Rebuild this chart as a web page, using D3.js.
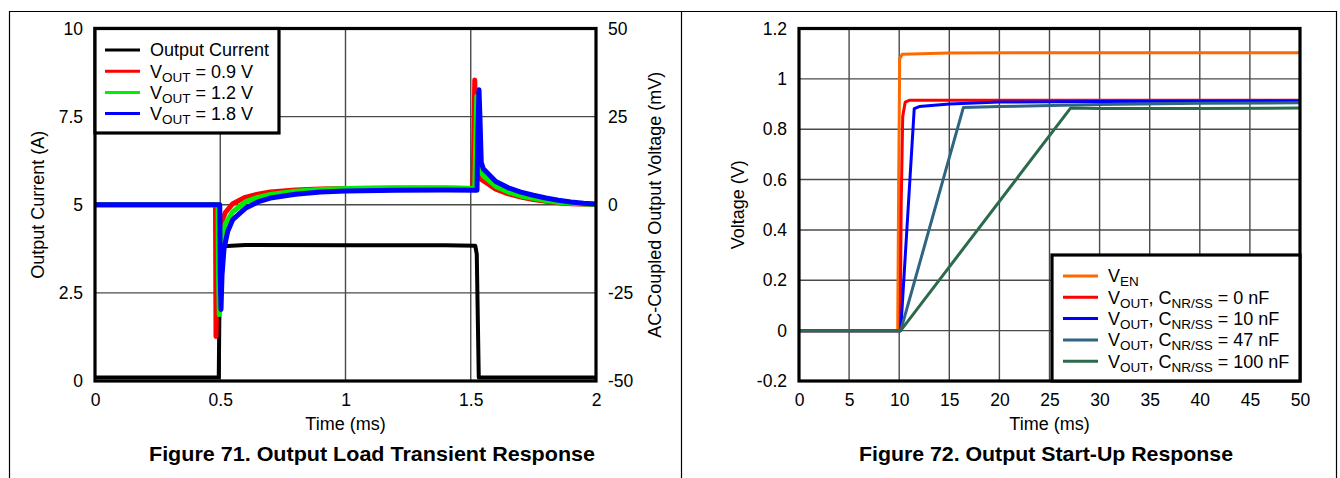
<!DOCTYPE html>
<html>
<head>
<meta charset="utf-8">
<script src="https://cdn.jsdelivr.net/npm/d3@7"></script>
<style>
  body { margin: 0; background: #fff; }
  svg text { font-family: "Liberation Sans", Arial, sans-serif; fill: #000; }
  .tick text { font-size: 17.5px; }
  .axis-title { font-size: 18px; }
  .fig-title { font-size: 21px; font-weight: bold; }
  .legend text { font-size: 18px; }
</style>
</head>
<body>
<div id="chart"></div>
<script>
// ---- Figure 71 data (time in ms) ----
const loadTicksX = [0, 0.5, 1, 1.5, 2];
const loadTicksY = [0, 2.5, 5, 7.5, 10];
const loadTicksY2 = [-50, -25, 0, 25, 50];

// output current, A
const outputCurrent = [[0, 0.1], [0.494, 0.1], [0.499, 3.7], [0.51, 3.82], [0.6, 3.86], [1.0, 3.85], [1.4, 3.85], [1.518, 3.84], [1.524, 3.6], [1.532, 0.1], [2, 0.1]];
// AC-coupled output voltage, mV
const vout09 = [[0, 0], [0.481, 0], [0.483, -37.4], [0.487, -24], [0.492, -12], [0.5, -6], [0.52, -2.2], [0.55, 0.3], [0.6, 2.1], [0.65, 3.0], [0.7, 3.6], [0.8, 4.2], [0.9, 4.5], [1.0, 4.6], [1.2, 4.7], [1.4, 4.7], [1.508, 4.6], [1.511, 12], [1.516, 35.4], [1.52, 22], [1.526, 9], [1.535, 7.6], [1.55, 6.8], [1.6, 4.4], [1.65, 3.1], [1.7, 2.2], [1.75, 1.5], [1.8, 1.0], [1.85, 0.6], [1.9, 0.3], [2, 0.1]];
const vout12 = [[0, 0], [0.491, 0], [0.493, -20], [0.496, -31.2], [0.5, -20], [0.507, -10], [0.52, -5.5], [0.55, -2], [0.6, 0.8], [0.65, 2.1], [0.7, 2.9], [0.8, 3.8], [0.9, 4.3], [1.0, 4.6], [1.2, 4.8], [1.4, 4.8], [1.516, 4.6], [1.519, 15], [1.524, 30.7], [1.528, 21], [1.535, 10], [1.55, 8.2], [1.6, 5.2], [1.65, 3.6], [1.7, 2.5], [1.75, 1.8], [1.8, 1.2], [1.85, 0.7], [1.9, 0.4], [2, 0.1]];
const vout18 = [[0, 0], [0.498, 0], [0.5, -20], [0.503, -29.7], [0.507, -20], [0.515, -12.5], [0.53, -7.5], [0.55, -4.2], [0.6, -1.0], [0.65, 0.8], [0.7, 1.9], [0.8, 3.0], [0.9, 3.6], [1.0, 3.9], [1.2, 4.1], [1.4, 4.2], [1.525, 4.1], [1.528, 20], [1.533, 32.6], [1.537, 24], [1.542, 12], [1.55, 10.2], [1.6, 6.6], [1.65, 4.8], [1.7, 3.6], [1.75, 2.7], [1.8, 1.9], [1.85, 1.3], [1.9, 0.8], [1.95, 0.4], [2, 0.2]];

// ---- Figure 72 data (time in ms, volts) ----
const startTicksX = [0, 5, 10, 15, 20, 25, 30, 35, 40, 45, 50];
const startTicksY = [-0.2, 0, 0.2, 0.4, 0.6, 0.8, 1, 1.2];
const vEn = [[0, 0], [9.85, 0], [9.95, 0.6], [10.05, 1.08], [10.3, 1.098], [15, 1.103], [30, 1.104], [50, 1.104]];
const vOut0nF = [[0, 0], [10.1, 0], [10.2, 0.5], [10.35, 0.85], [10.6, 0.908], [11, 0.915], [20, 0.915], [50, 0.915]];
const vOut10nF = [[0, 0], [10.15, 0], [11.5, 0.882], [12, 0.89], [15, 0.9], [20, 0.908], [30, 0.91], [50, 0.912]];
const vOut47nF = [[0, 0], [10.15, 0], [16.4, 0.886], [20, 0.89], [30, 0.898], [40, 0.903], [50, 0.905]];
const vOut100nF = [[0, 0], [10.15, 0], [27.1, 0.884], [30, 0.882], [40, 0.882], [50, 0.884]];

const svg = d3.select('#chart').append('svg')
  .attr('width', 1340)
  .attr('height', 478);

// page cell borders
svg.append('path')
  .attr('d', 'M9.5,478 V11.5 H1336.5 V478 M681.5,11.5 V478')
  .attr('fill', 'none')
  .attr('stroke', '#000')
  .attr('stroke-width', 1.2);

const fmt = (d) => String(d);

// Draws one panel: frame, grid, axes, series, legend
function drawPanel(cfg) {
  const g = svg.append('g');
  const x = d3.scaleLinear().domain(cfg.xDomain).range([cfg.left, cfg.right]);
  const y = d3.scaleLinear().domain(cfg.yDomain).range([cfg.bottom, cfg.top]);

  // grid
  g.append('g').selectAll('line.gx')
    .data(cfg.xTicks)
    .join('line')
    .attr('x1', (d) => x(d)).attr('x2', (d) => x(d))
    .attr('y1', cfg.top).attr('y2', cfg.bottom)
    .attr('stroke', '#4a4a4a').attr('stroke-width', 1.4);
  g.append('g').selectAll('line.gy')
    .data(cfg.yTicks)
    .join('line')
    .attr('x1', cfg.left).attr('x2', cfg.right)
    .attr('y1', (d) => y(d)).attr('y2', (d) => y(d))
    .attr('stroke', '#4a4a4a').attr('stroke-width', 1.4);

  // axes (labels only)
  const xAxis = g.append('g')
    .attr('transform', `translate(0,${cfg.bottom + 10})`)
    .call(d3.axisBottom(x).tickValues(cfg.xTicks).tickSize(0).tickFormat(fmt));
  xAxis.select('.domain').remove();
  xAxis.selectAll('text').attr('dy', '0.71em');

  const yAxis = g.append('g')
    .attr('transform', `translate(${cfg.left - 9},0)`)
    .call(d3.axisLeft(y).tickValues(cfg.yTicks).tickSize(0).tickFormat(fmt));
  yAxis.select('.domain').remove();

  if (cfg.y2Domain) {
    const y2 = d3.scaleLinear().domain(cfg.y2Domain).range([cfg.bottom, cfg.top]);
    const y2Axis = g.append('g')
      .attr('transform', `translate(${cfg.right + 9},0)`)
      .call(d3.axisRight(y2).tickValues(cfg.y2Ticks).tickSize(0).tickFormat(fmt));
    y2Axis.select('.domain').remove();
    cfg.y2 = y2;
  }
  g.selectAll('.tick text').attr('font-family', null).attr('font-size', null);

  // series
  const clipId = `clip-${cfg.id}`;
  g.append('clipPath').attr('id', clipId)
    .append('rect')
    .attr('x', cfg.left).attr('y', cfg.top)
    .attr('width', cfg.right - cfg.left).attr('height', cfg.bottom - cfg.top);

  const seriesG = g.append('g').attr('clip-path', `url(#${clipId})`);
  cfg.series.forEach((s) => {
    const ys = s.axis === 'y2' ? cfg.y2 : y;
    const line = d3.line().x((d) => x(d[0])).y((d) => ys(d[1]));
    seriesG.append('path')
      .datum(s.data)
      .attr('d', line)
      .attr('fill', 'none')
      .attr('stroke', s.color)
      .attr('stroke-width', s.width)
      .attr('stroke-linejoin', 'round');
  });

  // frame
  g.append('rect')
    .attr('x', cfg.left).attr('y', cfg.top)
    .attr('width', cfg.right - cfg.left).attr('height', cfg.bottom - cfg.top)
    .attr('fill', 'none').attr('stroke', '#000').attr('stroke-width', 3.2);

  // legend
  const lg = g.append('g').attr('class', 'legend');
  const L = cfg.legend;
  lg.append('rect')
    .attr('x', L.x0).attr('y', L.y0)
    .attr('width', L.x1 - L.x0).attr('height', L.y1 - L.y0)
    .attr('fill', '#fff').attr('stroke', '#000').attr('stroke-width', 3.2);
  cfg.series.forEach((s, i) => {
    const ry = L.rowY + i * L.rowGap;
    lg.append('line')
      .attr('x1', L.lineX).attr('x2', L.lineX + 35)
      .attr('y1', ry).attr('y2', ry)
      .attr('stroke', s.color).attr('stroke-width', 3);
    const t = lg.append('text')
      .attr('x', L.lineX + 45).attr('y', ry).attr('dy', '0.35em');
    s.label.forEach((part) => {
      if (part[1] === 'sub') {
        t.append('tspan').text(part[0]).attr('font-size', '13.5px').attr('dy', '4');
      } else {
        const ts = t.append('tspan').text(part[0]);
        if (part[1] === 'after') ts.attr('dy', '-4');
      }
    });
  });

  // axis titles
  const cx = (cfg.left + cfg.right) / 2;
  g.append('text').attr('class', 'axis-title')
    .attr('x', cx).attr('y', cfg.bottom + 49)
    .attr('text-anchor', 'middle').text(cfg.xTitle);
  g.append('text').attr('class', 'axis-title')
    .attr('transform', `translate(${cfg.yTitleX},${(cfg.top + cfg.bottom) / 2}) rotate(-90)`)
    .attr('text-anchor', 'middle').text(cfg.yTitle);
  if (cfg.y2Title) {
    g.append('text').attr('class', 'axis-title')
      .attr('transform', `translate(${cfg.y2TitleX},${(cfg.top + cfg.bottom) / 2}) rotate(-90)`)
      .attr('text-anchor', 'middle').text(cfg.y2Title);
  }
  g.append('text').attr('class', 'fig-title')
    .attr('x', cfg.titleX).attr('y', cfg.bottom + 80)
    .attr('text-anchor', 'middle')
    .attr('textLength', cfg.titleWidth)
    .attr('lengthAdjust', 'spacingAndGlyphs')
    .text(cfg.title);
}

drawPanel({
  id: 'load',
  left: 95, right: 596, top: 28.5, bottom: 381,
  xDomain: [0, 2], yDomain: [0, 10], y2Domain: [-50, 50],
  xTicks: loadTicksX, yTicks: loadTicksY, y2Ticks: loadTicksY2,
  xTitle: 'Time (ms)', yTitle: 'Output Current (A)', yTitleX: 44,
  y2Title: 'AC-Coupled Output Voltage (mV)', y2TitleX: 661,
  title: 'Figure 71. Output Load Transient Response', titleX: 372, titleWidth: 446,
  series: [
    { data: outputCurrent, axis: 'y', color: '#000', width: 4, label: [['Output Current', '']] },
    { data: vout09, axis: 'y2', color: '#ff0000', width: 5, label: [['V', ''], ['OUT', 'sub'], [' = 0.9 V', 'after']] },
    { data: vout12, axis: 'y2', color: '#00ee00', width: 5, label: [['V', ''], ['OUT', 'sub'], [' = 1.2 V', 'after']] },
    { data: vout18, axis: 'y2', color: '#0000ff', width: 5, label: [['V', ''], ['OUT', 'sub'], [' = 1.8 V', 'after']] },
  ],
  legend: { x0: 95, y0: 28.5, x1: 279, y1: 133, lineX: 105, rowY: 50, rowGap: 21.2 },
});

drawPanel({
  id: 'startup',
  left: 799, right: 1300, top: 28.5, bottom: 381,
  xDomain: [0, 50], yDomain: [-0.2, 1.2],
  xTicks: startTicksX, yTicks: startTicksY,
  xTitle: 'Time (ms)', yTitle: 'Voltage (V)', yTitleX: 744,
  title: 'Figure 72. Output Start-Up Response', titleX: 1046, titleWidth: 374,
  series: [
    { data: vEn, color: '#ff6a00', width: 3, label: [['V', ''], ['EN', 'sub']] },
    { data: vOut0nF, color: '#ff0000', width: 3, label: [['V', ''], ['OUT', 'sub'], [', C', 'after'], ['NR/SS', 'sub'], [' = 0 nF', 'after']] },
    { data: vOut10nF, color: '#0000ff', width: 3, label: [['V', ''], ['OUT', 'sub'], [', C', 'after'], ['NR/SS', 'sub'], [' = 10 nF', 'after']] },
    { data: vOut47nF, color: '#2f6582', width: 3, label: [['V', ''], ['OUT', 'sub'], [', C', 'after'], ['NR/SS', 'sub'], [' = 47 nF', 'after']] },
    { data: vOut100nF, color: '#2b6b4b', width: 3, label: [['V', ''], ['OUT', 'sub'], [', C', 'after'], ['NR/SS', 'sub'], [' = 100 nF', 'after']] },
  ],
  legend: { x0: 1052, y0: 255, x1: 1300, y1: 381, lineX: 1063, rowY: 276, rowGap: 21.3 },
});
</script>
</body>
</html>
